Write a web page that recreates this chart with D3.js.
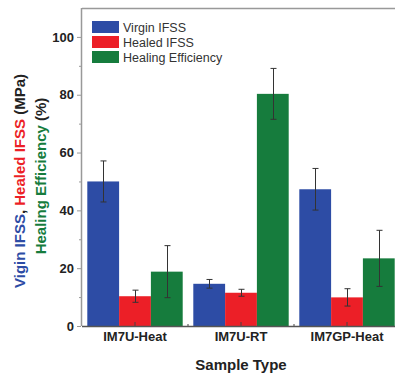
<!DOCTYPE html>
<html><head><meta charset="utf-8">
<script src="https://cdn.jsdelivr.net/npm/d3@7"></script>
<style>body{margin:0;background:#fff}svg{display:block}</style>
</head><body><svg id="c" width="395" height="374"></svg>
<script>
const categories = ["IM7U-Heat", "IM7U-RT", "IM7GP-Heat"];
const seriesNames = ["Virgin IFSS", "Healed IFSS", "Healing Efficiency"];
const virgin = [50.0, 14.6, 47.3];
const virginErr = [7.1, 1.5, 7.2];
const healed = [10.3, 11.5, 9.9];
const healedErr = [2.1, 1.2, 3.0];
const efficiency = [18.8, 80.3, 23.4];
const efficiencyErr = [9.0, 8.8, 9.7];
const yTicks = [0, 20, 40, 60, 80, 100];
const yMinor = [10, 30, 50, 70, 90];
const colors = ["#2d4ca5", "#ec1f27", "#167c3d"];

const svg = d3.select("#c");
const L = 82, R = 400, T = 8, B = 326;
const y = d3.scaleLinear().domain([0, 110]).range([B, T]);
const x0 = d3.scaleBand().domain(categories).range([L, R]).paddingInner(0.1).paddingOuter(0.05);
const x1 = d3.scaleBand().domain(seriesNames).range([0, x0.bandwidth()]);

const series = [
  {name: seriesNames[0], vals: virgin, errs: virginErr},
  {name: seriesNames[1], vals: healed, errs: healedErr},
  {name: seriesNames[2], vals: efficiency, errs: efficiencyErr}
];

// bars
series.forEach((s, si) => {
  const g = svg.append("g");
  g.selectAll("rect").data(categories).join("rect")
    .attr("x", c => x0(c) + x1(s.name))
    .attr("width", x1.bandwidth())
    .attr("y", (c, i) => y(s.vals[i]))
    .attr("height", (c, i) => B - y(s.vals[i]))
    .attr("fill", colors[si]);
});

// bottom ticks (inward) at group centers and between groups
const tg = svg.append("g").attr("stroke", "#444").attr("stroke-width", 1);
categories.forEach(c => {
  const cx = x0(c) + x0.bandwidth() / 2;
  tg.append("line").attr("x1", cx).attr("x2", cx).attr("y1", B).attr("y2", B - 4);
});
for (let i = 0; i < categories.length - 1; i++) {
  const mx = (x0(categories[i]) + x0.bandwidth() + x0(categories[i + 1])) / 2;
  tg.append("line").attr("x1", mx).attr("x2", mx).attr("y1", B).attr("y2", B - 2);
}

// error bars
const eg = svg.append("g").attr("stroke", "#333").attr("stroke-width", 1);
series.forEach(s => {
  categories.forEach((c, i) => {
    const cx = Math.round(x0(c) + x1(s.name) + x1.bandwidth() / 2) + 0.5;
    const top = y(s.vals[i] + s.errs[i]), bot = y(s.vals[i] - s.errs[i]);
    eg.append("line").attr("x1", cx).attr("x2", cx).attr("y1", top).attr("y2", bot);
    eg.append("line").attr("x1", cx - 3).attr("x2", cx + 3).attr("y1", top).attr("y2", top);
    eg.append("line").attr("x1", cx - 3).attr("x2", cx + 3).attr("y1", bot).attr("y2", bot);
  });
});

// frame
svg.append("line").attr("x1", L).attr("x2", R).attr("y1", T + 0.5).attr("y2", T + 0.5).attr("stroke", "#999").attr("stroke-width", 1.5);
svg.append("line").attr("x1", L - 0.5).attr("x2", L - 0.5).attr("y1", T).attr("y2", B).attr("stroke", "#999").attr("stroke-width", 1.5);
svg.append("line").attr("x1", L).attr("x2", R).attr("y1", B + 0.5).attr("y2", B + 0.5).attr("stroke", "#555").attr("stroke-width", 1.5);

// y axis
const yAxis = d3.axisLeft(y).tickValues(yTicks).tickSize(4).tickPadding(3);
const ya = svg.append("g").attr("transform", `translate(${L - 1},0)`).call(yAxis);
ya.select(".domain").remove();
ya.selectAll("line").attr("stroke", "#999");
ya.selectAll("text").attr("font-family", "Liberation Sans, Arial, sans-serif").attr("font-weight", "bold").attr("font-size", 13).attr("fill", "#222");
const yMin = d3.axisLeft(y).tickValues(yMinor).tickSize(2).tickFormat("");
const ym = svg.append("g").attr("transform", `translate(${L - 1},0)`).call(yMin);
ym.select(".domain").remove();
ym.selectAll("line").attr("stroke", "#999");

// x labels
const xAxis = d3.axisBottom(x0).tickSize(0).tickPadding(6);
const xa = svg.append("g").attr("transform", `translate(0,${B})`).call(xAxis);
xa.select(".domain").remove();
xa.selectAll("text").attr("font-family", "Liberation Sans, Arial, sans-serif").attr("font-weight", "bold").attr("font-size", 13).attr("fill", "#222");

// x title
svg.append("text").attr("x", 241).attr("y", 370).attr("text-anchor", "middle")
  .attr("font-family", "Liberation Sans, Arial, sans-serif").attr("font-weight", "bold").attr("font-size", 15).attr("fill", "#222")
  .text("Sample Type");

// y title (two lines, coloured)
const yt = svg.append("text").attr("transform", "translate(25,181) rotate(-90)").attr("text-anchor", "middle")
  .attr("font-family", "Liberation Sans, Arial, sans-serif").attr("font-weight", "bold").attr("font-size", 15);
yt.append("tspan").attr("fill", colors[0]).text("Vigin IFSS");
yt.append("tspan").attr("fill", "#222").text(", ");
yt.append("tspan").attr("fill", colors[1]).text("Healed IFSS");
yt.append("tspan").attr("fill", "#222").text(" (MPa)");
const yt2 = svg.append("text").attr("transform", "translate(46,176) rotate(-90)").attr("text-anchor", "middle")
  .attr("font-family", "Liberation Sans, Arial, sans-serif").attr("font-weight", "bold").attr("font-size", 15);
yt2.append("tspan").attr("fill", colors[2]).text("Healing Efficiency");
yt2.append("tspan").attr("fill", "#222").text(" (%)");

// legend
const lg = svg.append("g").attr("transform", "translate(92,21)");
seriesNames.forEach((n, i) => {
  const row = lg.append("g").attr("transform", `translate(0,${i * 15})`);
  row.append("rect").attr("width", 27).attr("height", 12).attr("fill", colors[i]);
  row.append("text").attr("x", 31).attr("y", 10.5).attr("font-family", "Liberation Sans, Arial, sans-serif")
    .attr("font-size", 12.5).attr("fill", "#333").text(n);
});
</script></body></html>
